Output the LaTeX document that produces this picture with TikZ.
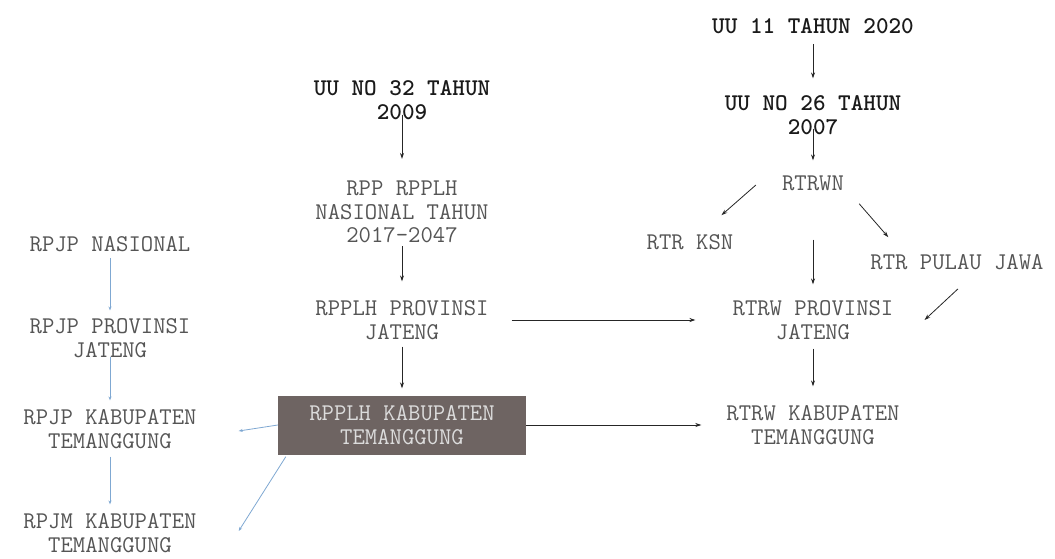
\documentclass[tikz,border=0pt]{standalone}
\usepackage{fontspec}
\usetikzlibrary{positioning,arrows.meta}

\definecolor{abu}{HTML}{555555}
\definecolor{hitam}{HTML}{1A1A1A}
\definecolor{coklat}{HTML}{6E6462}
\definecolor{terang}{HTML}{DCDCDC}
\definecolor{biru}{HTML}{7FA8D2}

\tikzset{
  teks/.style={align=center, inner sep=0pt, text=abu, font=\ttfamily\fontsize{24}{23.5}\selectfont},
  tebal/.style={teks, text=hitam, font=\ttfamily\fontsize{24}{23.5}\selectfont\bfseries},
  kotak/.style={teks, fill=coklat, text=terang, minimum width=248pt, minimum height=59pt},
  panah/.style={-{Stealth[length=6pt,width=4pt]}, line width=0.8pt, draw=black!85},
  panahbiru/.style={-{Stealth[length=4pt,width=3pt]}, line width=0.8pt, draw=biru}
}

\begin{document}
\begin{tikzpicture}[x=1pt, y=1pt]
  \useasboundingbox (0,0) rectangle (1055,-559);

  % kolom kanan: tata ruang
  \node (uu11) [tebal] at (813,-26) {UU 11 TAHUN 2020};                       % posisi acuan
  \node (uu26) [tebal, below of=uu11, node distance=89pt] {UU NO 26 TAHUN\\2007};
  \node (rtrwn) [teks, below of=uu26, node distance=68pt] {RTRWN};
  \node (ksn) [teks] at (690,-242) {RTR KSN};
  \node (jawa) [teks] at (957,-262) {RTR PULAU JAWA};
  \node (rtrwprov) [teks, below of=rtrwn, node distance=137pt] {RTRW PROVINSI\\JATENG};
  \node (rtrwkab) [teks, below of=rtrwprov, node distance=105pt] {RTRW KABUPATEN\\TEMANGGUNG};

  % kolom tengah: lingkungan hidup
  \node (uu32) [tebal] at (402,-100) {UU NO 32 TAHUN\\2009};
  \node (rpp) [teks, below of=uu32, node distance=112pt] {RPP RPPLH\\NASIONAL TAHUN\\2017-2047};
  \node (rpplhprov) [teks, below of=rpp, node distance=108pt] {RPPLH PROVINSI\\JATENG};
  \node (rpplhkab) [kotak, below of=rpplhprov, node distance=105pt] {RPPLH KABUPATEN\\TEMANGGUNG};

  % kolom kiri: pembangunan
  \node (rpjpnas) [teks] at (110,-244) {RPJP NASIONAL};
  \node (rpjpprov) [teks, below of=rpjpnas, node distance=94pt] {RPJP PROVINSI\\JATENG};
  \node (rpjpkab) [teks, below of=rpjpprov, node distance=91pt] {RPJP KABUPATEN\\TEMANGGUNG};
  \node (rpjm) [teks, below of=rpjpkab, node distance=104pt] {RPJM KABUPATEN\\TEMANGGUNG};

  % garis koneksi kanan
  \draw [panah, shorten <=10pt, shorten >=17pt] (uu11) -- (uu26);
  \draw [panah, shorten <=-6pt, shorten >=15pt] (uu26) -- (rtrwn);
  \draw [panah, shorten <=49pt, shorten >=16pt] (rtrwn) -- (rtrwprov);
  \draw [panah, shorten <=9pt, shorten >=19pt] (rtrwprov) -- (rtrwkab);
  \draw [panah] ([xshift=-26pt,yshift=-2pt]rtrwn.west) -- ([xshift=-12pt,yshift=19pt]ksn.north east);
  \draw [panah] ([xshift=15pt,yshift=-13pt]rtrwn.south east) -- ([xshift=18pt,yshift=17pt]jawa.north west);
  \draw [panah] ([xshift=1pt,yshift=-19pt]jawa.south) -- ([xshift=31pt]rtrwprov.east);

  % garis koneksi tengah
  \draw [panah, shorten <=-5pt, shorten >=22pt] (uu32) -- (rpp);
  \draw [panah, shorten <=3pt, shorten >=19pt] (rpp) -- (rpplhprov);
  \draw [panah, shorten <=7pt, shorten >=7pt] (rpplhprov) -- (rpplhkab);
  \draw [panah, shorten <=23pt, shorten >=37pt] (rpplhprov.east) -- (rtrwprov.west);
  \draw [panah, shorten >=25pt] (rpplhkab.east) -- (rtrwkab.west);

  % garis koneksi kiri
  \draw [panahbiru, shorten <=6pt, shorten >=8pt] (rpjpnas) -- (rpjpprov);
  \draw [panahbiru, shorten <=-1pt, shorten >=9pt] (rpjpprov) -- (rpjpkab);
  \draw [panahbiru, shorten <=8pt, shorten >=9pt] (rpjpkab) -- (rpjm);
  \draw [panahbiru] (rpplhkab.west) -- ([xshift=42pt,yshift=-2pt]rpjpkab.east);
  \draw [panahbiru] ([xshift=8pt,yshift=-2pt]rpplhkab.south west) -- ([xshift=42pt,yshift=2pt]rpjm.east);
\end{tikzpicture}
\end{document}
